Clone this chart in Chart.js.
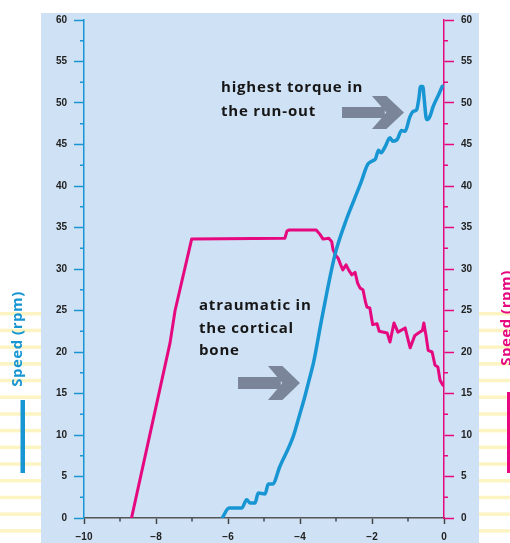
<!DOCTYPE html>
<html>
<head>
<meta charset="utf-8">
<script src="https://cdn.jsdelivr.net/npm/chart.js@4/dist/chart.umd.min.js"></script>
<style>
  html, body { margin: 0; padding: 0; background: #fff; }
  #wrap { width: 510px; height: 543px; }
</style>
</head>
<body>
<div id="wrap"><canvas id="chart" width="510" height="543"></canvas></div>
<script>
// blue curve (left axis)
const blueX = [-6.15, -5.97, -5.62, -5.48, -5.39, -5.25, -5.16, -4.97, -4.88, -4.76, -4.56, -4.19, -4.0, -3.88, -3.76, -3.62, -3.4, -3.03, -2.75, -2.5, -2.3, -2.12, -2.0, -1.9, -1.82, -1.75, -1.64, -1.5, -1.42, -1.3, -1.18, -1.08, -0.95, -0.85, -0.76, -0.7, -0.65, -0.59, -0.55, -0.5, -0.46, -0.39, -0.3, -0.15, -0.05];
const blueY = [0.1, 1.2, 1.2, 2.2, 1.8, 1.8, 3.0, 2.9, 4.1, 4.1, 6.2, 9.8, 12.6, 14.4, 16.4, 18.8, 23.9, 31.7, 35.5, 38.3, 40.5, 42.6, 43.0, 43.3, 44.3, 44.0, 44.7, 45.8, 45.4, 45.6, 46.7, 46.6, 48.3, 49.0, 49.2, 50.5, 52.0, 52.0, 50.5, 48.3, 48.0, 48.4, 49.6, 51.0, 52.0];

// pink curve (right axis)
const pinkX = [-8.68, -7.61, -7.47, -7.01, -4.42, -4.36, -4.3, -3.55, -3.45, -3.36, -3.2, -3.12, -3.08, -3.0, -2.94, -2.87, -2.81, -2.72, -2.65, -2.56, -2.47, -2.4, -2.33, -2.25, -2.18, -2.14, -2.06, -2.01, -1.98, -1.86, -1.8, -1.58, -1.5, -1.39, -1.28, -1.08, -0.94, -0.81, -0.67, -0.6, -0.56, -0.5, -0.44, -0.33, -0.25, -0.17, -0.11, -0.03];
const pinkY = [0, 21.1, 25, 33.6, 33.7, 34.6, 34.7, 34.7, 34.2, 33.6, 33.7, 33.3, 32.3, 31.6, 31.3, 30.5, 29.9, 30.5, 29.9, 29.3, 29.6, 28.3, 27.7, 27.5, 26.0, 25.4, 25.3, 24.0, 23.3, 23.4, 22.5, 22.3, 21.2, 23.5, 22.4, 22.9, 20.5, 22.0, 22.4, 22.6, 23.5, 22.0, 20.2, 20.0, 18.4, 18.2, 16.6, 16.0];

const xTicks = [-10, -8, -6, -4, -2, 0];
const axisLabel = "Speed (rpm)";
const note1 = ["highest torque in", "the run-out"];
const note2 = ["atraumatic in", "the cortical", "bone"];

const BLUE = "#1896d3";
const PINK = "#e5087f";
const BG = "#cfe1f4";
const ARROW = "#7a8599";

const toPoints = (xs, ys) => xs.map((x, i) => ({ x: x, y: ys[i] }));

function drawArrow(ctx, x0, y, len, shaftH, headW, headH) {
  const tip = x0 + len;
  ctx.fillStyle = ARROW;
  ctx.fillRect(x0, y - shaftH / 2, len - headW * 0.6, shaftH);
  ctx.beginPath();
  ctx.moveTo(tip - headW, y - headH / 2);
  ctx.lineTo(tip - headW * 0.55, y - headH / 2);
  ctx.lineTo(tip, y);
  ctx.lineTo(tip - headW * 0.55, y + headH / 2);
  ctx.lineTo(tip - headW, y + headH / 2);
  ctx.lineTo(tip - headW * 0.55, y);
  ctx.closePath();
  ctx.fill();
}

const decor = {
  id: "decor",
  beforeDraw(chart) {
    const ctx = chart.ctx;
    ctx.save();
    ctx.fillStyle = "#fff";
    ctx.fillRect(0, 0, 510, 543);
    // yellow stripes on both sides
    ctx.fillStyle = "#fdf4c4";
    for (let y = 312; y < 543; y += 16.7) {
      ctx.fillRect(0, y, 41, 3.5);
      ctx.fillRect(479, y, 31, 3.5);
    }
    ctx.fillStyle = BG;
    ctx.fillRect(41, 13, 438, 530);
    ctx.restore();
  },
  beforeDatasetsDraw(chart) {
    const ctx = chart.ctx;
    ctx.save();
    drawArrow(ctx, 342, 112.5, 62, 11, 32, 33);
    drawArrow(ctx, 238, 383, 62, 12, 32, 34);
    ctx.restore();
  },
  afterDraw(chart) {
    const ctx = chart.ctx;
    const { x, y, y2 } = chart.scales;
    ctx.save();
    // minor ticks
    ctx.lineWidth = 1.5;
    for (let v = 2.5; v < 60; v += 5) {
      const py = y.getPixelForValue(v);
      ctx.strokeStyle = BLUE;
      ctx.beginPath(); ctx.moveTo(y.right - 4, py); ctx.lineTo(y.right, py); ctx.stroke();
      const py2 = y2.getPixelForValue(v);
      ctx.strokeStyle = PINK;
      ctx.beginPath(); ctx.moveTo(y2.left, py2); ctx.lineTo(y2.left + 4, py2); ctx.stroke();
    }
    ctx.strokeStyle = "#444";
    for (let v = -9; v < 0; v += 2) {
      const px = x.getPixelForValue(v);
      ctx.beginPath(); ctx.moveTo(px, x.top); ctx.lineTo(px, x.top + 3.5); ctx.stroke();
    }

    // annotations
    ctx.fillStyle = "#161616";
    ctx.font = "bold 15px 'Open Sans'";
    ctx.letterSpacing = "0.8px";
    ctx.textBaseline = "middle";
    ctx.textAlign = "left";
    note1.forEach((t, i) => ctx.fillText(t, 221, 88 + i * 23.5));
    note2.forEach((t, i) => ctx.fillText(t, 199, 306 + i * 22.5));

    // side axis titles
    ctx.letterSpacing = "0.5px";
    ctx.font = "bold 15px 'Open Sans'";
    ctx.textAlign = "center";
    ctx.save();
    ctx.translate(18, 339);
    ctx.rotate(-Math.PI / 2);
    ctx.fillStyle = BLUE;
    ctx.fillText(axisLabel, 0, 0);
    ctx.restore();
    ctx.save();
    ctx.translate(507, 318);
    ctx.rotate(-Math.PI / 2);
    ctx.fillStyle = PINK;
    ctx.fillText(axisLabel, 0, 0);
    ctx.restore();

    // legend bars
    ctx.fillStyle = BLUE;
    ctx.fillRect(20.5, 400, 4.5, 73);
    ctx.fillStyle = PINK;
    ctx.fillRect(507, 392, 4, 81);
    ctx.restore();
  }
};

const tickFont = { family: "'Liberation Sans', Arial, sans-serif", size: 10, weight: "bold" };

new Chart(document.getElementById("chart"), {
  type: "line",
  data: {
    datasets: [
      {
        data: toPoints(blueX, blueY),
        yAxisID: "y",
        borderColor: BLUE,
        borderWidth: 3.5,
        pointRadius: 0,
        cubicInterpolationMode: "monotone",
        borderCapStyle: "round",
        borderJoinStyle: "round"
      },
      {
        data: toPoints(pinkX, pinkY),
        yAxisID: "y2",
        borderColor: PINK,
        borderWidth: 3,
        pointRadius: 0,
        tension: 0,
        borderCapStyle: "round",
        borderJoinStyle: "round"
      }
    ]
  },
  options: {
    responsive: false,
    animation: false,
    events: [],
    layout: { padding: { top: 20, left: 0, right: 0, bottom: 0 } },
    plugins: { legend: { display: false }, tooltip: { enabled: false } },
    scales: {
      x: {
        type: "linear",
        min: -10,
        max: 0,
        afterBuildTicks: (scale) => { scale.ticks = xTicks.map((v) => ({ value: v })); },
        afterFit: (scale) => { scale.height = 25; },
        ticks: {
          font: tickFont,
          color: "#222",
          padding: 7,
          maxRotation: 0,
          callback: (v) => String(v).replace("-", "\u2212")
        },
        grid: { drawOnChartArea: false, tickLength: 6, tickColor: "#444", tickWidth: 1.5 },
        border: { color: "#555", width: 1.5 }
      },
      y: {
        position: "left",
        min: 0,
        max: 60,
        afterFit: (scale) => { scale.width = 84; },
        ticks: { stepSize: 5, font: tickFont, color: "#222", padding: 7 },
        grid: { drawOnChartArea: false, tickLength: 10, tickColor: BLUE, tickWidth: 1.5 },
        border: { color: BLUE, width: 1.5 }
      },
      y2: {
        position: "right",
        min: 0,
        max: 60,
        afterFit: (scale) => { scale.width = 66; },
        ticks: { stepSize: 5, font: tickFont, color: "#222", padding: 7 },
        grid: { drawOnChartArea: false, tickLength: 10, tickColor: PINK, tickWidth: 1.5 },
        border: { color: PINK, width: 1.5 }
      }
    }
  },
  plugins: [decor]
});
</script>
</body>
</html>
